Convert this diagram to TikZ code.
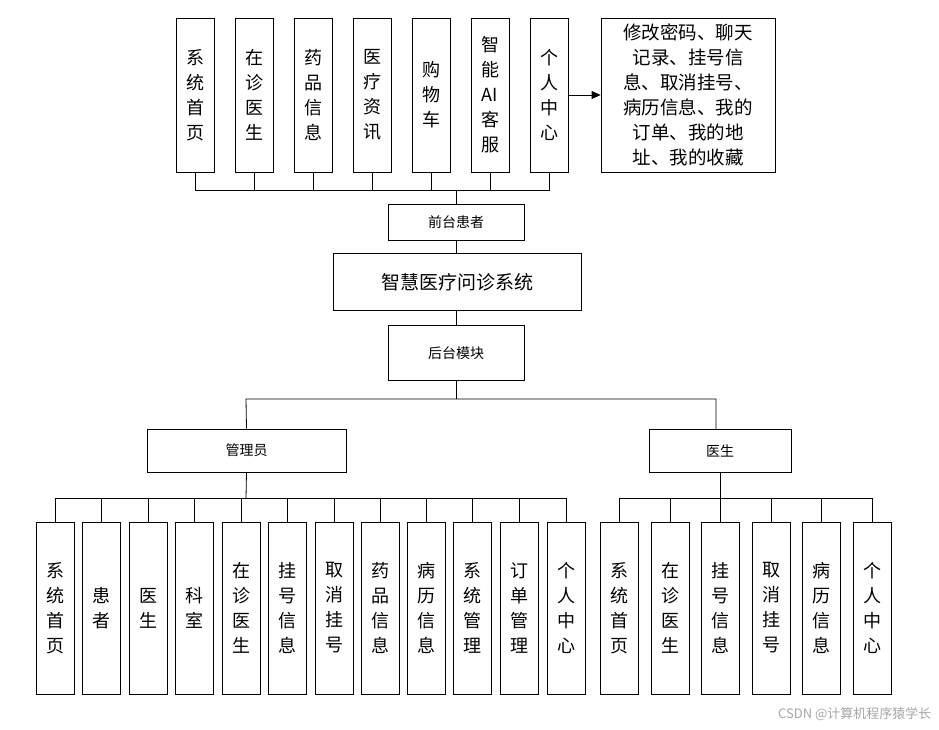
\documentclass[tikz,border=0pt]{standalone}
\usepackage{fontspec}
\setmainfont{Noto Sans CJK SC}
\usetikzlibrary{arrows.meta}
\begin{document}
\begin{tikzpicture}[x=1pt,y=-1pt,
  bx/.style={draw,thick,fill=white,inner sep=0pt,align=center},
  vb/.style={bx,minimum width=38pt,minimum height=172pt,font=\fontsize{18}{25}\selectfont},
  tb/.style={bx,minimum width=38pt,minimum height=154pt,font=\fontsize{18}{25}\selectfont},
  ln/.style={thick}]
\useasboundingbox (0,0) rectangle (939,729);
% top boxes
\foreach \n/\x/\t in {t1/195/系\\统\\首\\页, t2/254/在\\诊\\医\\生, t3/313/药\\品\\信\\息, t4/372/医\\疗\\资\\讯, t5/431/购\\物\\车, t6/490/智\\能\\AI\\客\\服, t7/549/个\\人\\中\\心}
  \node[tb] (\n) at (\x,95) {\t};
\node[bx,minimum width=174pt,minimum height=154pt,font=\fontsize{18.5}{25}\selectfont] (big) at (688,95)
 {修改密码、聊天\\记录、挂号信\\息、取消挂号、\\病历信息、我的\\订单、我的地\\址、我的收藏};
\draw[ln,-{Triangle[length=9pt,width=8pt]}] (t7.east) -- (big.west);
\coordinate (tb) at (456,190);
\draw[ln] (t1.south) -- (195,190) -- (549,190) -- (t7.south);
\foreach \n in {t2,t3,t4,t5,t6} \draw[ln] (\n.south) -- (\n.south |- tb);
\node[bx,minimum width=136pt,minimum height=36pt,font=\fontsize{14}{16}\selectfont] (qt) at (456,222) {前台患者};
\node[bx,minimum width=248pt,minimum height=57pt,font=\fontsize{19}{22}\selectfont] (sys) at (457,282) {智慧医疗问诊系统};
\node[bx,minimum width=136pt,minimum height=55pt,font=\fontsize{14}{16}\selectfont] (ht) at (456,353) {后台模块};
\draw[ln] (tb) -- (qt.north);
\draw[ln] (qt.south) -- (qt.south |- sys.north);
\draw[ln] (ht.north |- sys.south) -- (ht.north);
\node[bx,minimum width=199pt,minimum height=43pt,font=\fontsize{14}{16}\selectfont] (adm) at (246.5,450.5) {管理员};
\node[bx,minimum width=142pt,minimum height=43pt,font=\fontsize{14}{16}\selectfont] (doc) at (720,450.5) {医生};
\coordinate (mb) at (456,399);
\draw[ln] (ht.south) -- (mb);
\draw[ln] (adm.north) -- (246,399) -- (716,399) -- (716,429);
% admin children
\foreach \n/\x/\t in {a1/55/系\\统\\首\\页, a2/101/患\\者, a3/148/医\\生, a4/194/科\\室, a5/241/在\\诊\\医\\生, a6/287/挂\\号\\信\\息, a7/334/取\\消\\挂\\号, a8/380/药\\品\\信\\息, a9/426/病\\历\\信\\息, a10/472/系\\统\\管\\理, a11/519/订\\单\\管\\理, a12/566/个\\人\\中\\心}
  \node[vb] (\n) at (\x,608) {\t};
\draw[ln] (a1.north) -- (55,498) -- (566,498) -- (a12.north);
\foreach \n in {a2,a3,a4,a5,a6,a7,a8,a9,a10,a11} \draw[ln] (\n.north) -- (\n.north |- 0,498);
\draw[ln] (adm.south) -- (246,498);
\foreach \n/\x/\t in {d1/619/系\\统\\首\\页, d2/670/在\\诊\\医\\生, d3/720/挂\\号\\信\\息, d4/771/取\\消\\挂\\号, d5/821/病\\历\\信\\息, d6/872/个\\人\\中\\心}
  \node[vb] (\n) at (\x,608) {\t};
\draw[ln] (d1.north) -- (619,498) -- (872,498) -- (d6.north);
\foreach \n in {d2,d3,d4,d5} \draw[ln] (\n.north) -- (\n.north |- 0,498);
\draw[ln] (doc.south) -- (720,498);
\node[text=gray!70,font=\fontsize{13}{15}\selectfont,anchor=east] (wm) at (935,714) {CSDN @计算机程序猿学长};
\end{tikzpicture}
\end{document}
